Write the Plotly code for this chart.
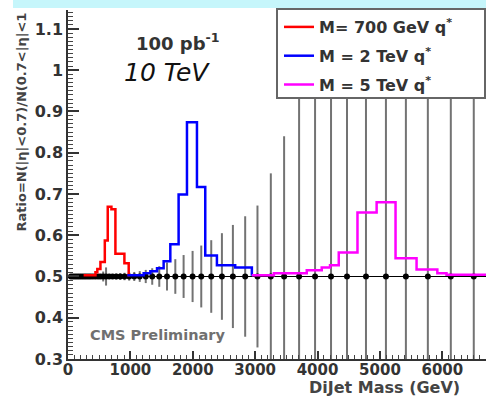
import plotly.graph_objects as go

# Ratio points along dijet mass (GeV), ratio value and statistical error
mass = [45, 80, 115, 150, 185, 220, 255, 290, 326, 362, 400, 440, 482, 521,
        564, 610, 660, 714, 773, 837, 906, 981, 1062, 1150, 1246, 1350, 1463,
        1587, 1720, 1853, 1997, 2136, 2296, 2467, 2643, 2840, 3037, 3251, 3464,
        3704, 3960, 4216, 4472, 4776, 5096, 5416, 5768, 6136, 6504]
ratio = [0.5, 0.5, 0.5, 0.5, 0.5, 0.5, 0.5, 0.5, 0.5, 0.5, 0.5, 0.5, 0.5, 0.5,
         0.5, 0.5, 0.5, 0.5, 0.5, 0.5, 0.5, 0.5, 0.5, 0.5, 0.5, 0.5, 0.5,
         0.5, 0.5, 0.5, 0.5, 0.5, 0.5, 0.5, 0.5, 0.5, 0.5, 0.5, 0.5,
         0.5, 0.5, 0.5, 0.5, 0.5, 0.5, 0.5, 0.5, 0.5, 0.5]
ratio_err = [0.002, 0.002, 0.002, 0.002, 0.002, 0.002, 0.002, 0.002, 0.002, 0.002, 0.002, 0.002, 0.002, 0.003,
             0.012, 0.022, 0.006, 0.006, 0.007, 0.008, 0.009, 0.010, 0.011, 0.013, 0.016, 0.020, 0.025,
             0.034, 0.042, 0.052, 0.062, 0.075, 0.088, 0.105, 0.125, 0.146, 0.172, 0.25, 0.34,
             0.70, 0.80, 0.90, 1.0, 1.1, 1.2, 1.3, 1.4, 1.5, 1.6]

# Excited-quark signal histograms: bin low edges and the level starting at each edge
red_edges = [250, 440, 470, 520, 590, 637, 696, 760, 904, 973]
red_levels = [0.503, 0.51, 0.518, 0.535, 0.587, 0.669, 0.663, 0.555, 0.532, 0.5]

blue_edges = [950, 1213, 1320, 1427, 1533, 1640, 1773, 1907, 2067, 2200, 2387, 2680, 2947]
blue_levels = [0.503, 0.508, 0.513, 0.52, 0.537, 0.578, 0.699, 0.874, 0.717, 0.551, 0.527, 0.522, 0.502]

mag_edges = [2947, 3300, 3827, 4067, 4200, 4340, 4640, 4947, 5250, 5587, 5920, 6067, 6700]
mag_levels = [0.503, 0.508, 0.515, 0.522, 0.527, 0.558, 0.655, 0.68, 0.544, 0.517, 0.508, 0.504, 0.504]

signal_names = ["M= 700 GeV q<sup>*</sup>", "M = 2 TeV q<sup>*</sup>", "M = 5 TeV q<sup>*</sup>"]
signal_colors = ["#ff0000", "#0000ff", "#ff00ff"]

x_range = [0, 6700]
y_range = [0.3, 1.146]

W, H = 486, 400
L, R, T, B = 68, 0, 10, 41
PW, PH = W - L - R, H - T - B


def px(x):
    return (x - L) / PW


def py(y):
    return (H - B - y) / PH


fig = go.Figure()

fig.add_trace(go.Scatter(
    x=mass, y=ratio, mode="markers",
    marker=dict(color="black", size=6),
    error_y=dict(type="data", array=ratio_err, color="#737373", thickness=2, width=0),
    showlegend=False, hoverinfo="skip",
))

for edges, levels, name, color in zip(
        [red_edges, blue_edges, mag_edges],
        [red_levels, blue_levels, mag_levels],
        signal_names, signal_colors):
    fig.add_trace(go.Scatter(
        x=edges, y=levels, mode="lines", name=name, legendgroup=name,
        line=dict(color=color, width=2.5, shape="hv"),
    ))

fig.add_hline(y=0.5, line=dict(color="black", width=1.2), layer="below")

tick_font = dict(family="DejaVu Sans", size=15, color="#333", weight="bold")

fig.update_xaxes(
    range=x_range, dtick=1000, tickformat="d",
    ticks="inside", ticklen=8, tickwidth=1.5, tickcolor="#333",
    minor=dict(dtick=100, ticks="inside", ticklen=4, tickwidth=1, tickcolor="#444"),
    showline=True, linecolor="#333", linewidth=1.5,
    showgrid=False, zeroline=False, tickfont=tick_font, ticklabelstandoff=-4,
)
fig.update_yaxes(
    range=y_range, dtick=0.1,
    ticks="inside", ticklen=11, tickwidth=1.5, tickcolor="#333",
    minor=dict(dtick=0.01, ticks="inside", ticklen=5, tickwidth=1, tickcolor="#444"),
    showline=True, linecolor="#333", linewidth=1.5,
    showgrid=False, zeroline=False, tickfont=dict(tick_font, size=16),
)

# light band along the top edge
fig.add_shape(type="rect", xref="paper", yref="paper",
              x0=px(13), x1=px(490), y0=py(8), y1=py(-5),
              fillcolor="#c6f6fb", line=dict(width=0), layer="above")
# legend frame (the legend itself is drawn transparent on top of it)
fig.add_shape(type="rect", xref="paper", yref="paper",
              x0=px(277), x1=px(485), y0=py(98), y1=py(9),
              fillcolor="white", line=dict(color="#666", width=2), layer="above")

annotations = [
    dict(text="DiJet Mass (GeV)", x=px(462), y=py(387), xanchor="right", yanchor="middle",
         font=dict(family="DejaVu Sans", size=16, color="#444", weight="bold")),
    dict(text="Ratio=N(|η|<0.7)/N(0.7<|η|<1", x=px(21), y=py(234), textangle=-90,
         xanchor="center", yanchor="bottom",
         font=dict(family="DejaVu Sans", size=13, color="#444", weight="bold")),
    dict(text="100 pb<sup>-1</sup>", x=px(178), y=py(42), xanchor="center", yanchor="middle",
         font=dict(family="DejaVu Sans", size=18, color="#333", weight="bold")),
    dict(text="10 TeV", x=px(167), y=py(72), xanchor="center", yanchor="middle",
         font=dict(family="DejaVu Sans", size=25, color="#111", style="italic")),
    dict(text="CMS Preliminary", x=px(157), y=py(335), xanchor="center", yanchor="middle",
         font=dict(family="DejaVu Sans", size=14.5, color="#707070", weight="bold")),
]
for a in annotations:
    fig.add_annotation(xref="paper", yref="paper", showarrow=False, **a)

fig.update_layout(
    width=W, height=H,
    margin=dict(l=L, r=R, t=T, b=B),
    plot_bgcolor="white", paper_bgcolor="white",
    legend=dict(x=px(279), y=py(10), xanchor="left", yanchor="top",
                bgcolor="rgba(0,0,0,0)", borderwidth=0,
                tracegroupgap=5, itemwidth=30,
                font=dict(family="DejaVu Sans", size=16, color="#333", weight="bold")),
)

fig.write_html("out.html")
